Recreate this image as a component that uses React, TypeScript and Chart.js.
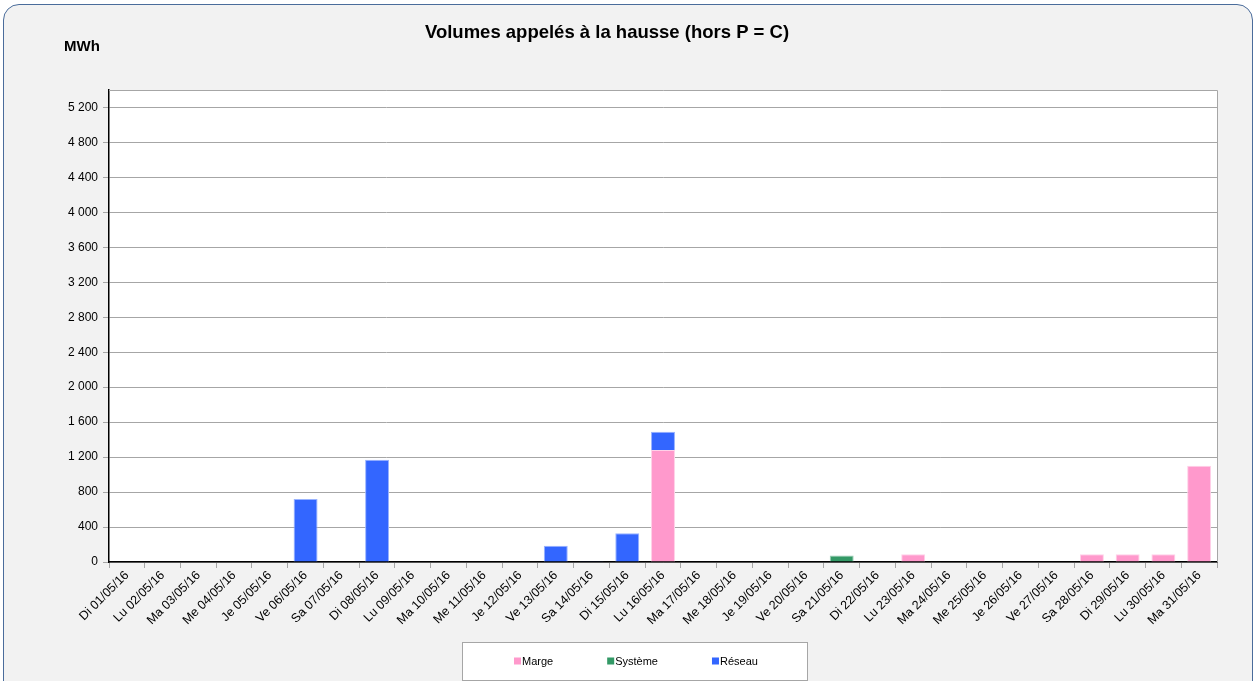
import React, { useEffect, useRef } from 'react';
import { Chart, registerables } from 'chart.js';

Chart.register(...registerables);

const categories = [
  'Di 01/05/16', 'Lu 02/05/16', 'Ma 03/05/16', 'Me 04/05/16', 'Je 05/05/16', 'Ve 06/05/16', 'Sa 07/05/16',
  'Di 08/05/16', 'Lu 09/05/16', 'Ma 10/05/16', 'Me 11/05/16', 'Je 12/05/16', 'Ve 13/05/16', 'Sa 14/05/16',
  'Di 15/05/16', 'Lu 16/05/16', 'Ma 17/05/16', 'Me 18/05/16', 'Je 19/05/16', 'Ve 20/05/16', 'Sa 21/05/16',
  'Di 22/05/16', 'Lu 23/05/16', 'Ma 24/05/16', 'Me 25/05/16', 'Je 26/05/16', 'Ve 27/05/16', 'Sa 28/05/16',
  'Di 29/05/16', 'Lu 30/05/16', 'Ma 31/05/16',
];

const margeValues = [
  0, 0, 0, 0, 0, 0, 0,
  0, 0, 0, 0, 0, 0, 0,
  0, 1280, 0, 0, 0, 0, 0,
  0, 90, 0, 0, 0, 0, 90,
  90, 90, 1100,
];

const systemeValues = [
  0, 0, 0, 0, 0, 0, 0,
  0, 0, 0, 0, 0, 0, 0,
  0, 0, 0, 0, 0, 0, 75,
  0, 0, 0, 0, 0, 0, 0,
  0, 0, 0,
];

const reseauValues = [
  0, 0, 0, 0, 0, 720, 0,
  1170, 0, 0, 0, 0, 185, 10,
  330, 210, 0, 0, 0, 0, 0,
  0, 0, 0, 0, 0, 0, 0,
  0, 0, 0,
];

const seriesLabels = ['Marge', 'Système', 'Réseau'];
const titleText = 'Volumes appelés à la hausse (hors P = C)';
const unitText = 'MWh';
const yMax = 5400;
const yLabelMax = 5200;
const yStep = 400;

const FONT = 'Arial, "Liberation Sans", sans-serif';

const fmt = (v: number) => String(v).replace(/\B(?=(\d{3})+(?!\d))/g, ' ');

const decorPlugin = {
  id: 'decor',
  beforeDraw(chart: any) {
    const { ctx, chartArea } = chart;
    ctx.save();
    ctx.fillStyle = '#ffffff';
    ctx.fillRect(chartArea.left, chartArea.top, chartArea.right - chartArea.left, chartArea.bottom - chartArea.top);
    ctx.restore();
  },
  beforeDatasetsDraw(chart: any) {
    const { ctx, chartArea } = chart;
    ctx.save();
    ctx.strokeStyle = '#a6a6a6';
    ctx.lineWidth = 1;
    ctx.beginPath();
    ctx.moveTo(chartArea.left, chartArea.top + 0.5);
    ctx.lineTo(chartArea.right + 0.5, chartArea.top + 0.5);
    ctx.lineTo(chartArea.right + 0.5, chartArea.bottom);
    ctx.stroke();
    ctx.restore();
  },
  afterDraw(chart: any) {
    const { ctx, chartArea } = chart;
    ctx.save();
    // title
    ctx.fillStyle = '#000';
    ctx.textBaseline = 'middle';
    ctx.textAlign = 'center';
    ctx.font = `bold 18.5px ${FONT}`;
    ctx.fillText(titleText, 607, 33);
    // unit
    ctx.textAlign = 'left';
    ctx.font = `bold 15px ${FONT}`;
    ctx.fillText(unitText, 64, 47);

    // legend box
    const boxTop = chartArea.bottom + 80;
    const boxLeft = 462;
    const boxW = 345;
    const boxH = 38;
    ctx.fillStyle = '#ffffff';
    ctx.fillRect(boxLeft, boxTop, boxW, boxH);
    ctx.strokeStyle = '#a6a6a6';
    ctx.lineWidth = 1;
    ctx.strokeRect(boxLeft + 0.5, boxTop + 0.5, boxW, boxH);
    const cy = boxTop + 19;
    ctx.font = `11px ${FONT}`;
    ctx.textBaseline = 'middle';
    let x = 514;
    chart.data.datasets.forEach((ds: any) => {
      ctx.fillStyle = ds.backgroundColor;
      ctx.fillRect(x, cy - 3.5, 7, 7);
      ctx.fillStyle = '#000';
      ctx.fillText(ds.label, x + 8, cy + 0.5);
      const w = ctx.measureText(ds.label).width;
      x += 8 + w + 54;
    });
    ctx.restore();
  },
};

export default function App() {
  const canvasRef = useRef<HTMLCanvasElement | null>(null);

  useEffect(() => {
    document.body.style.margin = '0';
    const canvas = canvasRef.current;
    if (!canvas) return;
    const chart = new Chart(canvas, {
      type: 'bar',
      data: {
        labels: categories,
        datasets: [
          {
            label: seriesLabels[0],
            data: margeValues,
            backgroundColor: '#ff99cc',
            borderColor: '#ffd0e8',
            borderWidth: 1,
            barPercentage: 0.67,
            categoryPercentage: 1,
          },
          {
            label: seriesLabels[1],
            data: systemeValues,
            backgroundColor: '#339966',
            borderColor: '#99ccb3',
            borderWidth: 1,
            barPercentage: 0.67,
            categoryPercentage: 1,
          },
          {
            label: seriesLabels[2],
            data: reseauValues,
            backgroundColor: '#3366ff',
            borderColor: '#99b3ff',
            borderWidth: 1,
            barPercentage: 0.67,
            categoryPercentage: 1,
          },
        ],
      },
      options: {
        responsive: false,
        animation: false,
        devicePixelRatio: 1,
        layout: { padding: { top: 90, right: 40, bottom: 39, left: 0 } },
        plugins: {
          legend: { display: false },
          title: { display: false },
          tooltip: { enabled: false },
        },
        scales: {
          x: {
            stacked: true,
            grid: {
              display: true,
              drawOnChartArea: false,
              drawTicks: true,
              tickLength: 6,
              color: '#a6a6a6',
              offset: true,
            },
            border: { display: true, color: '#000', width: 1.5 },
            ticks: {
              autoSkip: false,
              maxRotation: 45,
              minRotation: 45,
              color: '#000',
              padding: 0,
              font: { family: FONT, size: 12.5 },
            },
            afterFit(scale: any) {
              scale.height = 80;
            },
          },
          y: {
            stacked: true,
            min: 0,
            max: yMax,
            ticks: {
              stepSize: yStep,
              color: '#000',
              padding: 5,
              font: { family: FONT, size: 12 },
              callback: (v: any) => fmt(Number(v)),
            },
            afterBuildTicks(scale: any) {
              scale.ticks = scale.ticks.filter((t: any) => t.value <= yLabelMax);
            },
            grid: {
              color: '#a6a6a6',
              tickLength: 6,
              drawTicks: true,
            },
            border: { display: true, color: '#000', width: 1.5 },
            afterFit(scale: any) {
              scale.width = 109;
            },
          },
        },
      },
      plugins: [decorPlugin],
    });
    return () => chart.destroy();
  }, []);

  return (
    <div style={{ position: 'relative', width: 1257, height: 681, overflow: 'hidden' }}>
      <div
        style={{
          position: 'absolute',
          left: 3,
          top: 4,
          width: 1250,
          height: 720,
          border: '1px solid #4a6c9b',
          borderRadius: 16,
          background: '#f2f2f2',
          boxSizing: 'border-box',
        }}
      />
      <canvas
        ref={canvasRef}
        width={1257}
        height={681}
        style={{ position: 'absolute', left: 0, top: 0, width: 1257, height: 681 }}
      />
    </div>
  );
}
